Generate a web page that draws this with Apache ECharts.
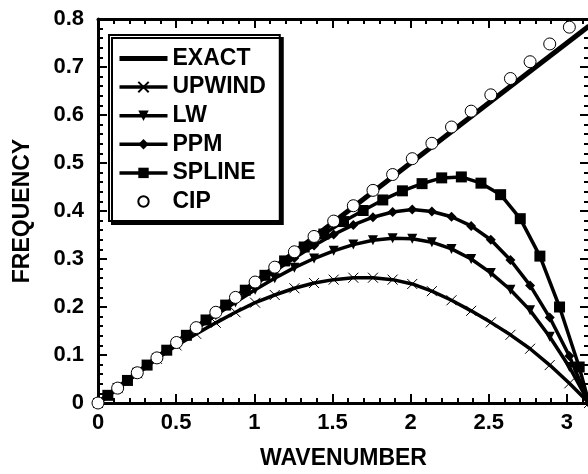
<!DOCTYPE html>
<html><head><meta charset="utf-8">
<script src="https://cdn.jsdelivr.net/npm/echarts@6/dist/echarts.min.js"></script>
<style>html,body{margin:0;padding:0;background:#fff}#c{width:588px;height:474px}</style>
</head><body><div id="c"></div><script>
// wavenumber grid (markers every pi/25)
const kGrid = [0, 0.1257, 0.2513, 0.3770, 0.5027, 0.6283, 0.7540, 0.8796, 1.0053, 1.1310, 1.2566, 1.3823, 1.5080, 1.6336, 1.7593, 1.8850, 2.0106, 2.1363, 2.2619, 2.3876, 2.5133, 2.6389, 2.7646, 2.8903, 3.0159, 3.1416];
// spline sample points (odd multiples of pi/50, plus ends)
const kSpline = [0, 0.0628, 0.1885, 0.3142, 0.4398, 0.5655, 0.6912, 0.8168, 0.9425, 1.0681, 1.1938, 1.3195, 1.4451, 1.5708, 1.6965, 1.8221, 1.9478, 2.0735, 2.1991, 2.3248, 2.4504, 2.5761, 2.7018, 2.8274, 2.9531, 3.0788, 3.1416];
const kExact = [0, 3.1416];
const exact = [0, 0.7854];
const upwind = [0, 0.031, 0.062, 0.092, 0.120, 0.144, 0.167, 0.189, 0.209, 0.225, 0.239, 0.250, 0.257, 0.261, 0.261, 0.257, 0.248, 0.233, 0.214, 0.192, 0.168, 0.142, 0.113, 0.079, 0.041, 0];
const lw = [0, 0.031, 0.063, 0.094, 0.124, 0.154, 0.183, 0.210, 0.236, 0.260, 0.282, 0.301, 0.317, 0.330, 0.339, 0.343, 0.342, 0.335, 0.321, 0.300, 0.271, 0.236, 0.193, 0.138, 0.075, 0];
const ppm = [0, 0.031, 0.063, 0.094, 0.126, 0.157, 0.188, 0.218, 0.247, 0.275, 0.302, 0.328, 0.351, 0.371, 0.387, 0.398, 0.403, 0.399, 0.388, 0.369, 0.340, 0.298, 0.245, 0.178, 0.098, 0];
const spline = [0, 0.016, 0.047, 0.079, 0.110, 0.141, 0.173, 0.204, 0.235, 0.266, 0.296, 0.325, 0.352, 0.378, 0.401, 0.423, 0.442, 0.457, 0.469, 0.471, 0.458, 0.434, 0.384, 0.306, 0.200, 0.075, 0];
const cip = [0, 0.031, 0.063, 0.094, 0.126, 0.157, 0.189, 0.220, 0.252, 0.283, 0.315, 0.347, 0.379, 0.411, 0.443, 0.476, 0.509, 0.541, 0.575, 0.608, 0.642, 0.676, 0.711, 0.748, 0.783];
const names = ['EXACT', 'UPWIND', 'LW', 'PPM', 'SPLINE', 'CIP'];
const xTicks = ['0', '0.5', '1', '1.5', '2', '2.5', '3'];

const FONT = '"Liberation Sans", Arial, sans-serif';
const pair = (ks, vs) => vs.map((v, i) => [ks[i], v]);
const chart = echarts.init(document.getElementById('c'), null, {renderer: 'canvas'});

const lineW = {EXACT: 5, UPWIND: 3.5, LW: 3.5, PPM: 3.5, SPLINE: 3.5, CIP: 0};

const axisCommon = {
  type: 'value', min: 0,
  axisLine: {show: true, onZero: false, lineStyle: {color: '#000', width: 3}},
  axisTick: {show: true, inside: true, length: 9, lineStyle: {color: '#000', width: 2}},
  minorTick: {show: true, splitNumber: 5, length: 5, lineStyle: {color: '#000', width: 2}},
  splitLine: {show: false}, minorSplitLine: {show: false}
};

const option = {
  animation: false,
  backgroundColor: '#fff',
  grid: {left: 98, top: 19, width: 491, height: 384, outerBoundsMode: 'none', containLabel: false},
  legend: {
    orient: 'vertical', left: 109, top: 35,
    data: names.map(n => ({name: n, lineStyle: {width: lineW[n], color: '#000', opacity: lineW[n] ? 1 : 0}})),
    itemWidth: 48, itemHeight: 13, itemGap: 5.6, itemTextGap: 7,
    padding: [12, 14, 8, 8],
    backgroundColor: '#fff', borderColor: '#000', borderWidth: 2, borderRadius: 0,
    shadowColor: '#000', shadowBlur: 0, shadowOffsetX: 3, shadowOffsetY: 3,
    textStyle: {fontFamily: FONT, fontWeight: 'bold', fontSize: 23, color: '#000', lineHeight: 22},
    selectedMode: false
  },
  xAxis: [
    Object.assign({}, axisCommon, {
      position: 'bottom', max: 3.1416, interval: 0.5,
      name: 'WAVENUMBER', nameLocation: 'middle', nameGap: 44,
      nameTextStyle: {fontFamily: FONT, fontWeight: 'bold', fontSize: 23, color: '#000'},
      axisLabel: {show: true, margin: 9, fontFamily: FONT, fontWeight: 'bold', fontSize: 22, color: '#000',
        showMaxLabel: true,
        formatter: v => { const i = Math.round(v / 0.5); return Math.abs(v - i * 0.5) < 1e-6 ? (xTicks[i] || '') : ''; }}
    }),
    Object.assign({}, axisCommon, {
      position: 'top', max: 3.1416, interval: 0.5, axisLabel: {show: false}
    })
  ],
  yAxis: [
    Object.assign({}, axisCommon, {
      position: 'left', max: 0.8, interval: 0.1,
      name: 'FREQUENCY', nameLocation: 'middle', nameGap: 64,
      nameTextStyle: {fontFamily: FONT, fontWeight: 'bold', fontSize: 23, color: '#000'},
      axisLabel: {show: true, margin: 14, fontFamily: FONT, fontWeight: 'bold', fontSize: 22, color: '#000'}
    }),
    Object.assign({}, axisCommon, {
      position: 'right', max: 0.8, interval: 0.1, axisLabel: {show: false}
    })
  ],
  series: [
    {
      name: 'EXACT', type: 'line', data: pair(kExact, exact), symbol: 'none', showSymbol: false,
      lineStyle: {color: '#000', width: lineW.EXACT}, itemStyle: {color: '#000', opacity: 0}, z: 2,
      emphasis: {disabled: true}, silent: true
    },
    {
      name: 'UPWIND', type: 'line', data: pair(kGrid, upwind),
      symbol: 'path://M0,0L10,10M0,10L10,0', symbolSize: 10,
      lineStyle: {color: '#000', width: lineW.UPWIND},
      itemStyle: {color: 'none', borderColor: '#000', borderWidth: 1}, z: 3,
      emphasis: {disabled: true}, silent: true
    },
    {
      name: 'LW', type: 'line', data: pair(kGrid, lw),
      symbol: 'triangle', symbolSize: 10, symbolRotate: 180,
      lineStyle: {color: '#000', width: lineW.LW}, itemStyle: {color: '#000'}, z: 4,
      emphasis: {disabled: true}, silent: true
    },
    {
      name: 'PPM', type: 'line', data: pair(kGrid, ppm),
      symbol: 'diamond', symbolSize: 10,
      lineStyle: {color: '#000', width: lineW.PPM}, itemStyle: {color: '#000'}, z: 5,
      emphasis: {disabled: true}, silent: true
    },
    {
      name: 'SPLINE', type: 'line',
      data: pair(kSpline, spline).map((p, i) => (i === 0 || i === kSpline.length - 1) ? {value: p, symbol: 'none'} : p),
      symbol: 'rect', symbolSize: 11,
      lineStyle: {color: '#000', width: lineW.SPLINE}, itemStyle: {color: '#000'}, z: 6,
      emphasis: {disabled: true}, silent: true
    },
    {
      name: 'CIP', type: 'line', data: pair(kGrid, cip),
      symbol: 'circle', symbolSize: 12,
      lineStyle: {color: '#000', width: 0, opacity: 0},
      itemStyle: {color: '#fff', borderColor: '#000', borderWidth: 1}, z: 7,
      emphasis: {disabled: true}, silent: true
    }
  ]
};
chart.setOption(option);
</script></body></html>
